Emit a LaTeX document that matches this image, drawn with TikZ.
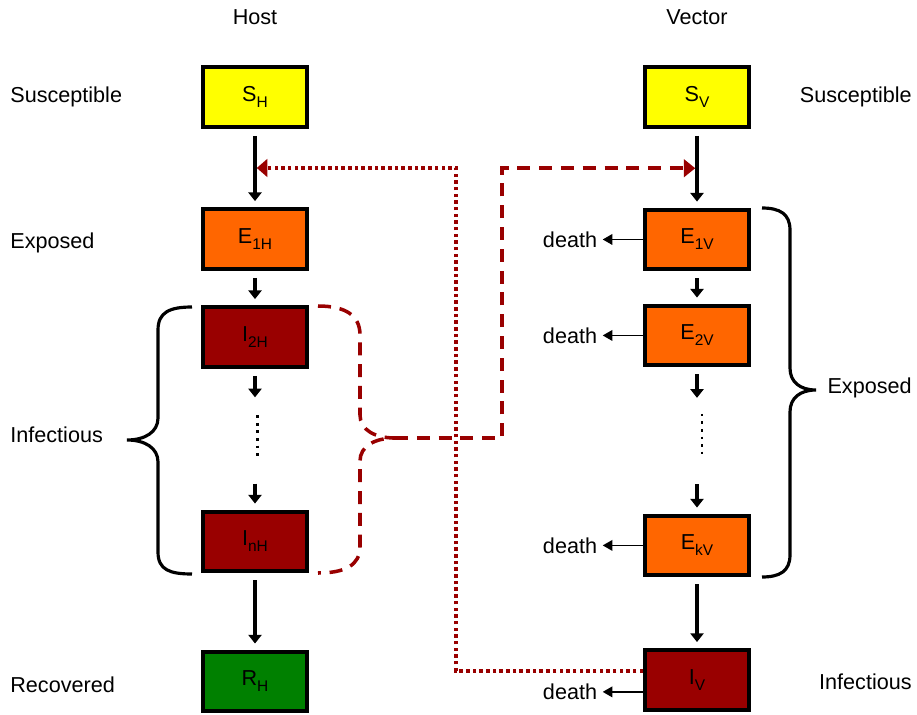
\documentclass[tikz,border=0pt]{standalone}
\usepackage{fontspec}
\setmainfont{Liberation Sans}
\usetikzlibrary{positioning, arrows.meta}
\definecolor{suscol}{HTML}{FFFF00}
\definecolor{expcol}{HTML}{FF6600}
\definecolor{infcol}{HTML}{990000}
\definecolor{reccol}{HTML}{008000}
\definecolor{linkcol}{HTML}{990000}
\newcommand{\lowidx}[1]{\raisebox{-3.4pt}{\fontsize{8.8}{10}\selectfont #1}}

\tikzset{
  comp/.style={draw, line width=2.4pt, minimum width=2.07cm, minimum height=1.19cm, inner sep=0pt},
  susc/.style={comp, fill=suscol},
  expo/.style={comp, fill=expcol},
  infc/.style={comp, fill=infcol},
  reco/.style={comp, fill=reccol},
  gapcol/.style={minimum width=0.4cm, minimum height=1.45cm, inner sep=0pt},
  lbl/.style={inner sep=0pt},
  deathlbl/.style={inner sep=3pt},
  flow/.style={-{Triangle[width=7.5pt,length=5pt]}, line width=2pt, shorten <=0.14cm, shorten >=0.12cm},
  dies/.style={-{Triangle[width=6pt,length=5.5pt]}, line width=1pt},
  dotcolumn/.style={line width=1.5pt, dash pattern=on 1.5pt off 2.8pt},
  brace/.style={line width=1.8pt},
  linkdash/.style={draw=linkcol, line width=2pt, dash pattern=on 7.4pt off 5pt},
  linkdot/.style={draw=linkcol, line width=2pt, dash pattern=on 2pt off 1.8pt},
  tohost/.style={linkdot, -{Triangle[width=10pt,length=6pt]}, shorten >=1pt},
  tovec/.style={linkdash, -{Triangle[width=10pt,length=6.5pt]}, shorten >=1pt}
}

\begin{document}
\begin{tikzpicture}[x=0.02cm, y=-0.02cm, on grid, node distance=2cm, font=\fontsize{12.3}{14}\selectfont]
  \useasboundingbox (0,0) rectangle (917,714);

  % host chain
  \node[susc] (SH) at (255,97) {S\lowidx{H}};
  \node[expo] (E1H) [below=2.84cm of SH] {E\lowidx{1H}};
  \node[infc] (I2H) [below=1.96cm of E1H] {I\lowidx{2H}};
  \node[gapcol] (hdots) [below=2.06cm of I2H] {};
  \node[infc] (InH) [below=2.03cm of hdots] {I\lowidx{nH}};
  \node[reco] (RH) [below=2.8cm of InH] {R\lowidx{H}};
  \node[lbl] (hostlbl) [above=1.6cm of SH] {Host};

  % vector chain
  \node[susc] (SV) at (697,97) {S\lowidx{V}};
  \node[expo] (E1V) [below=2.85cm of SV] {E\lowidx{1V}};
  \node[expo] (E2V) [below=1.92cm of E1V] {E\lowidx{2V}};
  \node[gapcol] (vdots) [below=2.1cm of E2V] {};
  \node[expo] (EkV) [below=2.1cm of vdots] {E\lowidx{kV}};
  \node[infc] (IV) [below=2.69cm of EkV] {I\lowidx{V}};
  \node[lbl] (veclbl) [above=1.6cm of SV] {Vector};

  \node[deathlbl] (dE1V) [left=2.54cm of E1V] {death};
  \node[deathlbl] (dE2V) [left=2.54cm of E2V] {death};
  \node[deathlbl] (dEkV) [left=2.54cm of EkV] {death};
  \node[deathlbl] (dIV) [below left=0.24cm and 2.54cm of IV] {death};

  % class labels
  \node[lbl, anchor=base west] (lSus) at (10,102) {Susceptible};
  \node[lbl, anchor=base west] (lExp) at (10,248) {Exposed};
  \node[lbl, anchor=base west] (lInf) at (10,442) {Infectious};
  \node[lbl, anchor=base west] (lRec) at (10,692) {Recovered};
  \node[lbl, anchor=base east] (rSus) at (912,102) {Susceptible};
  \node[lbl, anchor=base east] (rExp) at (912,393) {Exposed};
  \node[lbl, anchor=base east] (rInf) at (912,689) {Infectious};

  \draw[flow] (SH) -- (E1H);
  \draw[flow] (E1H) -- (I2H);
  \draw[flow] (I2H) -- (hdots);
  \draw[flow] (hdots) -- (InH);
  \draw[flow] (InH) -- (RH);
  \draw[flow] (SV) -- (E1V);
  \draw[flow] (E1V) -- (E2V);
  \draw[flow] (E2V) -- (vdots);
  \draw[flow] (vdots) -- (EkV);
  \draw[flow] (EkV) -- (IV);

  \draw[dotcolumn] ([xshift=0.05cm,yshift=-0.24cm]hdots.north) -- ([xshift=0.05cm,yshift=0.38cm]hdots.south);
  \draw[dotcolumn] ([xshift=0.1cm,yshift=-0.2cm]vdots.north) -- ([xshift=0.1cm,yshift=0.44cm]vdots.south);

  \draw[dies] (E1V) -- (dE1V);
  \draw[dies] (E2V) -- (dE2V);
  \draw[dies] (EkV) -- (dEkV);
  \draw[dies] (IV.west |- dIV) -- (dIV);

  % braces
  \draw[brace] (192,307) .. controls (170,307) and (158,312) .. (158,330) -- (158,418)
    .. controls (158,432) and (145,440) .. (127,440)
    .. controls (145,440) and (158,448) .. (158,462) -- (158,552)
    .. controls (158,570) and (170,574) .. (192,574);
  \draw[brace] (762,208) .. controls (780,208) and (790,214) .. (790,230) -- (790,368)
    .. controls (790,382) and (800,390) .. (816,390)
    .. controls (800,390) and (790,398) .. (790,412) -- (790,555)
    .. controls (790,571) and (780,577) .. (762,577);
  \draw[linkdash] (318,306) .. controls (345,306) and (360,315) .. (360,335) -- (360,415)
    .. controls (360,430) and (375,438) .. (395,438) coordinate (btip)
    .. controls (375,438) and (360,446) .. (360,461) -- (360,547)
    .. controls (360,565) and (345,573) .. (318,573);

  % transmission links
  \path (SH) -- (E1H) coordinate[midway] (hostin);
  \path (SV) -- (E1V) coordinate[midway] (vecin);
  \coordinate (dotturn) at (456,400);
  \coordinate (dashturn) at (502,300);
  \draw[tovec] (btip) -| (dashturn) |- (vecin);
  \draw[tohost] ([yshift=0.18cm]IV.west) -| (dotturn) |- (hostin);
\end{tikzpicture}
\end{document}
